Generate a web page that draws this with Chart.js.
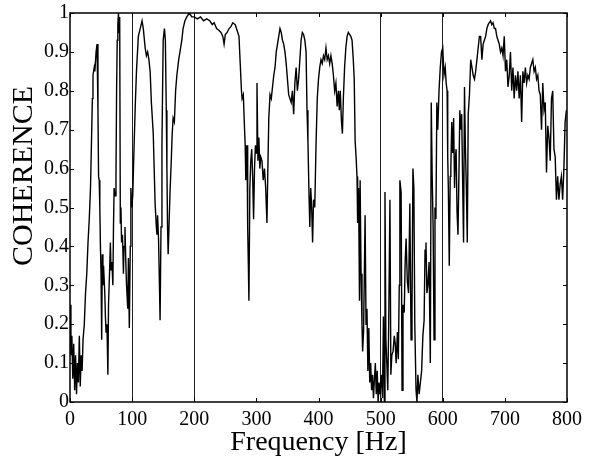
<!DOCTYPE html>
<html>
<head>
<meta charset="utf-8">
<script src="https://cdn.jsdelivr.net/npm/chart.js@4.4.1/dist/chart.umd.min.js"></script>
<style>
  html, body { margin: 0; padding: 0; background: #fff; }
  #wrap { width: 597px; height: 461px; position: relative; }
</style>
</head>
<body>
<div id="wrap"><canvas id="coh-graph"></canvas></div>
<script>
// frequency axis (Hz)
const freq = [
    0, 1.5, 3, 4.5, 6, 7.5, 9, 10.5, 12, 13.5,
    15, 16.5, 18, 19.5, 21, 23, 25, 27, 29, 31,
    33, 35, 36, 37, 39, 40, 42, 43.5, 45, 46,
    47, 48, 49, 50, 51, 52, 53, 54, 56, 57,
    58, 59.5, 61, 62, 64, 65, 66, 67.5, 69, 70,
    71, 72.5, 74, 75, 76, 77, 78, 79, 80, 81,
    82, 83, 84.5, 86, 87, 88.5, 90, 91, 93, 94,
    95.5, 97, 98, 99.5, 101, 103, 105, 107, 110, 113,
    116, 118, 121, 123, 125, 127, 129, 131, 134, 136,
    137, 139, 140, 141, 142.5, 144, 145, 146.5, 148, 149,
    150, 152, 153.5, 155, 156, 157, 158, 159.5, 161, 163,
    164.5, 166, 168, 170, 172, 175, 177, 180, 182, 185,
    188, 192, 196, 200, 205, 210, 215, 220, 225, 229,
    232, 236, 240, 243, 246, 248, 250, 253, 256, 259,
    262, 266, 269, 272, 274, 276, 277, 279, 281, 282,
    283, 284, 285, 286, 287, 288, 289.5, 291, 292.5, 294,
    295.5, 297, 298.5, 300, 301, 302.5, 304, 305.5, 307, 309,
    311, 313, 315, 317, 318.5, 320, 322, 324, 326, 328,
    330, 332, 334, 336, 338, 340, 342, 344, 346, 348,
    350, 352, 354, 356, 358, 360, 362, 364, 366, 368,
    370, 372, 374, 376, 378, 380, 381.5, 383, 384.5, 386,
    387.5, 389, 390.5, 392, 394, 396, 398, 400, 402, 404,
    406, 408, 410, 412, 414, 416, 418, 420, 422, 424,
    426, 428, 430, 432, 433.5, 435, 437, 438.5, 440, 442,
    444, 446, 448, 450, 452, 454, 456, 457.5, 459, 460.5,
    462, 463, 464.5, 466, 467, 468.5, 470, 471, 472.5, 474,
    475, 476.5, 478, 479.5, 481, 482.5, 484, 485.5, 487, 488.5,
    490, 491.5, 493, 494.5, 496, 497.5, 499, 501, 503, 504.5,
    506, 507, 508.5, 510, 511.5, 513, 515, 516.5, 518, 520,
    522, 523.5, 525, 527, 528.5, 530, 531, 533, 534.5, 536,
    538, 539.5, 541, 543, 545, 547, 549, 550.5, 552, 553.5,
    555, 557, 558.5, 560, 562, 564, 566, 568, 570, 571.5,
    573, 574.5, 576, 578, 580, 581.5, 583, 584.5, 586, 587.5,
    589, 590.5, 592, 594, 596, 598, 600, 602, 604, 605.5,
    607, 608, 609, 610.5, 612, 613, 614.5, 616, 617.5, 619,
    620, 621.5, 623, 624.5, 626, 627.5, 629, 630.5, 632, 633.5,
    635, 636.5, 638, 639.5, 641, 643, 645, 647, 649, 651,
    653, 655, 657, 659, 661, 663, 665, 667, 669, 671,
    673, 675, 677, 679, 681, 683, 685, 687, 689, 691,
    693, 695, 697, 699, 701, 703, 705, 707, 709, 711,
    713, 715, 717, 719, 721, 723, 725, 727, 729, 731,
    733, 735, 737, 739, 741, 743, 745, 747, 749, 751,
    753, 755, 757, 759, 761, 763, 765, 767, 769, 771,
    773, 775, 777, 779, 781, 783, 785, 787, 789, 791,
    793, 795, 797, 799
]

// coherence values, same order as freq
const coh = [
    .25, .12, .17, .06, .15, .03, .12, .02, .10, .05,
    .17, .04, .12, .08, .16, .20, .28, .33, .41, .47,
    .55, .70, .78, .84, .86, .85, .90, .92, .75, .58,
    .57, .50, .40, .33, .16, .38, .30, .35, .28, .22,
    .18, .20, .07, .25, .35, .41, .34, .36, .30, .45,
    .55, .53, .58, .80, .93, .97, 1.0, .95, .99, .46,
    .50, .41, .43, .33, .40, .45, .35, .30, .24, .37,
    .19, .40, .55, .50, .53, .65, .76, .85, .94, .96,
    .98, .96, .91, .89, .90, .88, .85, .77, .69, .57,
    .51, .45, .43, .48, .42, .30, .21, .45, .66, .80,
    .93, .96, .93, .75, .60, .45, .38, .46, .54, .62,
    .69, .73, .72, .80, .84, .88, .90, .93, .96, .98,
    .99, 1.0, .99, .99, .985, .99, .98, .985, .98, .97,
    .975, .96, .955, .95, .94, .92, .945, .95, .96, .965,
    .975, .97, .955, .94, .87, .80, .78, .79, .70, .66,
    .57, .64, .66, .45, .36, .26, .55, .62, .65, .58,
    .47, .60, .66, .64, .82, .62, .68, .60, .63, .62,
    .57, .60, .55, .46, .60, .73, .79, .78, .81, .84,
    .86, .90, .92, .94, .96, .95, .93, .92, .90, .87,
    .83, .79, .78, .77, .80, .74, .82, .86, .80, .83,
    .88, .93, .95, .945, .93, .90, .75, .67, .55, .45,
    .55, .50, .41, .52, .50, .66, .78, .83, .86, .88,
    .87, .89, .88, .91, .88, .89, .87, .89, .87, .84,
    .80, .82, .76, .80, .75, .80, .72, .69, .78, .86,
    .91, .94, .95, .945, .94, .93, .88, .83, .67, .63,
    .58, .46, .55, .26, .57, .33, .20, .13, .18, .35,
    .48, .20, .24, .08, .19, .05, .10, .03, .07, .01,
    .06, .10, .02, .08, 0, .05, .02, .07, .01, .22,
    0, .54, .16, .10, .03, .20, .52, .07, .12, .13,
    .17, .15, .10, .18, .11, .30, .57, .54, .03, .25,
    .23, .36, .42, .31, .28, .51, .16, .24, .60, .55,
    .20, .03, 0, .07, .02, .05, .08, .17, .21, .39,
    .41, .28, .30, .36, .10, .77, .58, .45, .16, .50,
    .47, .77, .70, .80, .86, .90, .91, .84, .86, .82,
    .80, .63, .55, .35, .58, .60, .72, .64, .73, .55,
    .62, .65, .49, .43, .58, .75, .70, .74, .57, .41,
    .81, .65, .55, .41, .74, .79, .88, .86, .84, .83,
    .85, .88, .91, .94, .94, .88, .92, .93, .94, .96,
    .97, .975, .98, .97, .975, .96, .96, .94, .93, .92,
    .90, .91, .89, .94, .85, .88, .81, .84, .90, .80,
    .86, .78, .84, .80, .85, .78, .84, .72, .85, .82,
    .86, .82, .84, .83, .86, .87, .88, .85, .86, .83,
    .84, .80, .79, .70, .82, .75, .77, .59, .71, .68,
    .62, .78, .80, .65, .63, .52, .58, .52, .56, .58,
    .52, .60, .72, .75
]

// frequencies that carry a vertical reference line
const markedFreqs = [100, 200, 500, 600]

const yTitle = "COHERENCE"
const font = "'Liberation Serif', 'DejaVu Serif', serif"

// box round the plot, inward tick marks, and the y title (sits above centre in the original)
const frame = {
    id: "frame",
    afterDatasetsDraw(chart) {
        const { ctx, chartArea: a, scales: { x, y } } = chart
        ctx.save()
        ctx.strokeStyle = "#000"
        ctx.lineWidth = 1.5
        ctx.strokeRect(a.left, a.top, a.right - a.left, a.bottom - a.top)
        ctx.lineWidth = 1
        ctx.beginPath()
        x.ticks.forEach(t => {
            const px = Math.round(x.getPixelForValue(t.value)) + 0.5
            ctx.moveTo(px, a.bottom); ctx.lineTo(px, a.bottom - 4)
            ctx.moveTo(px, a.top); ctx.lineTo(px, a.top + 4)
        })
        y.ticks.forEach(t => {
            const py = Math.round(y.getPixelForValue(t.value)) + 0.5
            ctx.moveTo(a.left, py); ctx.lineTo(a.left + 4, py)
            ctx.moveTo(a.right, py); ctx.lineTo(a.right - 4, py)
        })
        ctx.stroke()

        ctx.translate(24, 176)
        ctx.rotate(-Math.PI / 2)
        ctx.fillStyle = "#000"
        ctx.font = "30px " + font
        ctx.textAlign = "center"
        ctx.textBaseline = "middle"
        ctx.fillText(yTitle, 0, 0)
        ctx.restore()
    }
}

new Chart(document.getElementById("coh-graph"), {
    type: "line",
    data: {
        datasets: [{
            data: freq.map((f, i) => ({ x: f, y: coh[i] })),
            borderColor: "#000",
            borderWidth: 1.4,
            pointRadius: 0,
            tension: 0,
            fill: false
        }]
    },
    options: {
        responsive: true,
        maintainAspectRatio: false,
        animation: false,
        layout: { padding: { top: 13, right: 30, left: 0, bottom: 0 } },
        plugins: { legend: { display: false }, tooltip: { enabled: false } },
        scales: {
            x: {
                type: "linear",
                min: 0,
                max: 800,
                afterFit: s => { s.height = 59 },
                border: { display: false },
                grid: {
                    drawTicks: false,
                    lineWidth: 1,
                    color: c => markedFreqs.includes(c.tick && c.tick.value) ? "#222" : "rgba(0,0,0,0)"
                },
                ticks: {
                    stepSize: 100,
                    padding: 6,
                    maxRotation: 0,
                    color: "#000",
                    font: { family: font, size: 20 }
                },
                title: {
                    display: true,
                    text: "Frequency [Hz]",
                    color: "#000",
                    padding: { top: 0, bottom: 2 },
                    font: { family: font, size: 28 }
                }
            },
            y: {
                min: 0,
                max: 1,
                afterFit: s => { s.width = 70 },
                border: { display: false },
                grid: { display: false, drawTicks: false },
                ticks: {
                    stepSize: 0.1,
                    padding: 1,
                    color: "#000",
                    font: { family: font, size: 20 },
                    callback: v => {
                        const r = Math.round(v * 10) / 10
                        return r === 0 || r === 1 ? String(r) : r.toFixed(1)
                    }
                },
                title: { display: false }
            }
        }
    },
    plugins: [frame]
})
</script>
</body>
</html>
